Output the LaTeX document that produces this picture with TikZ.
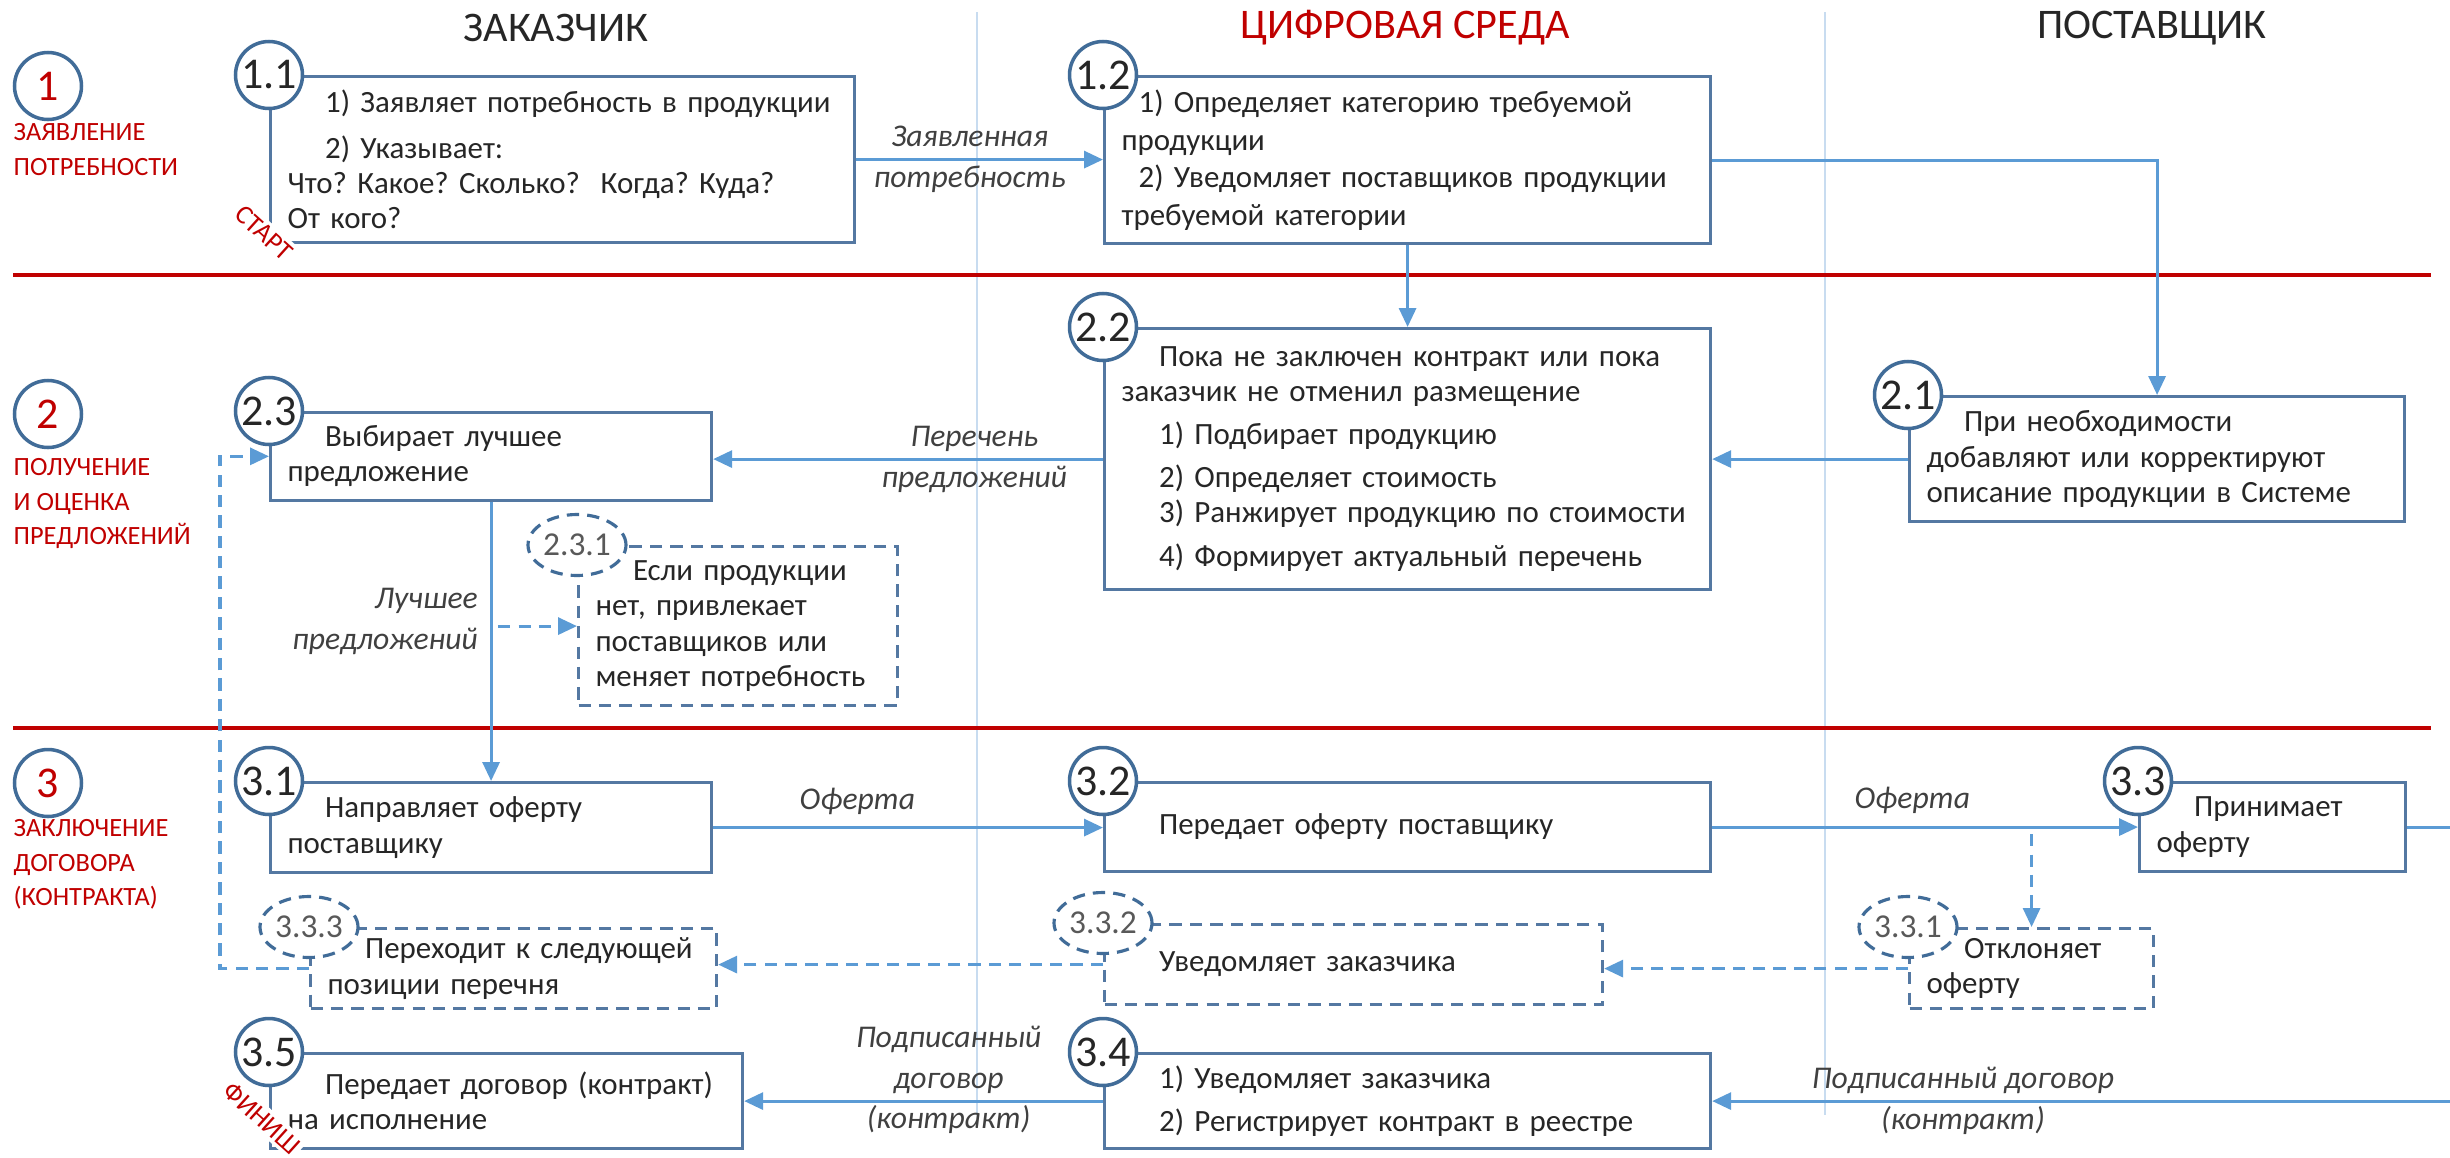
\documentclass[tikz,border=0pt]{standalone}
\usepackage{fontspec}
\setmainfont{Carlito}
\frenchspacing
\usetikzlibrary{positioning, shapes.geometric, arrows.meta, calc}
\definecolor{tmRed}{RGB}{192,0,0}
\definecolor{boxBlue}{RGB}{84,120,162}
\definecolor{circBlue}{RGB}{65,108,152}
\definecolor{lineBlue}{RGB}{91,155,213}
\definecolor{laneBlue}{RGB}{200,220,240}
\definecolor{txtGray}{RGB}{38,38,38}
\newcommand{\indnt}{\hspace*{0.375cm}}

\tikzset{
  stepbox/.style 2 args={draw=boxBlue, line width=0.9pt, fill=white, anchor=north west,
    minimum width=#1cm, minimum height=#2cm, inner xsep=0.17cm, inner ysep=0pt,
    /utils/exec={\pgfmathsetmacro\boxtw{#1-0.34}}, text width=\boxtw cm,
    align=left, text=txtGray, font=\fontsize{8.8}{10}\selectfont},
  altbox/.style 2 args={stepbox={#1}{#2}, dash pattern=on 3.5pt off 2.3pt},
  numcirc/.style={circle, draw=circBlue, line width=1pt, fill=white, minimum size=0.67cm,
    inner sep=0pt, text=txtGray, font=\fontsize{12.5}{12.5}\selectfont},
  altcirc/.style={ellipse, draw=circBlue, line width=0.9pt, dash pattern=on 3.5pt off 2.3pt,
    fill=white, minimum width=0.98cm, minimum height=0.61cm, inner sep=0pt,
    text=black!65, font=\fontsize{9.5}{9.5}\selectfont},
  phasecirc/.style={numcirc, text=tmRed},
  phaselbl/.style={anchor=north west, inner sep=0pt, align=left, text=tmRed,
    font=\fontsize{7.5}{9.8}\selectfont},
  lanehead/.style={font=\fontsize{12}{12}\selectfont, text=txtGray},
  endlbl/.style={text=tmRed, fill=white, inner sep=1pt, rotate=-42, font=\fontsize{7.6}{7.6}\selectfont},
  link/.style={draw=lineBlue, line width=0.9pt},
  flow/.style={link, -{Triangle[length=0.19cm, width=0.17cm]}},
  altflow/.style={flow, dash pattern=on 3.5pt off 2.3pt},
  flowlbl/.style={font=\itshape\fontsize{9}{11.6}\selectfont, text=black!75, align=center}
}

\begin{document}
\begin{tikzpicture}
	\useasboundingbox (0,0) rectangle (24.5,-11.57);
	
	% Lanes and phase borders
	\draw[laneBlue, line width=0.8pt] (9.77,-0.12) -- (9.77,-11.15);
	\draw[laneBlue, line width=0.8pt] (18.25,-0.12) -- (18.25,-11.15);
	\draw[tmRed, line width=1pt] (0.13,-2.75) -- (24.31,-2.75);
	\draw[tmRed, line width=1pt] (0.13,-7.28) -- (24.31,-7.28);
	
	\node[lanehead] (hcust) at (5.56,-0.28) {ЗАКАЗЧИК};
	\node[lanehead, text=tmRed] (hdigit) at (14.05,-0.28) {ЦИФРОВАЯ СРЕДА};
	\node[lanehead] (hsupp) at (21.52,-0.28) {ПОСТАВЩИК};
	
	% Phases
	\node[phasecirc] (ph1) at (0.48,-0.86) {1};
	\node[phaselbl] (ph1lbl) at (0.13,-1.23) {ЗАЯВЛЕНИЕ\\ПОТРЕБНОСТИ};
	\node[phasecirc] (ph2) at (0.48,-4.14) {2};
	\node[phaselbl] (ph2lbl) at (0.13,-4.58) {ПОЛУЧЕНИЕ\\И ОЦЕНКА\\ПРЕДЛОЖЕНИЙ};
	\node[phasecirc] (ph3) at (0.48,-7.83) {3};
	\node[phaselbl] (ph3lbl) at (0.13,-8.19) {ЗАКЛЮЧЕНИЕ\\ДОГОВОРА\\(КОНТРАКТА)};
	
	% Steps
	\node[stepbox={5.84}{1.66}] (b11) at (2.69,-0.75) {\indnt 1) Заявляет потребность в продукции\\[3pt]
		\indnt 2) Указывает:\\ Что? Какое? Сколько?~ Когда? Куда?\\ От кого?};
	\node[stepbox={6.06}{1.67}] (b12) at (11.03,-0.75) {\hspace*{0.17cm}1) Определяет категорию требуемой\\[0.7pt]
		продукции\\[0.7pt] \hspace*{0.17cm}2) Уведомляет поставщиков продукции\\[0.7pt] требуемой категории};
	\node[stepbox={6.06}{2.61}] (b22) at (11.03,-3.27) {\indnt Пока не заключен контракт или пока\\
		заказчик не отменил размещение\\[2pt] \indnt 1) Подбирает продукцию\\[2.4pt]
		\indnt 2) Определяет стоимость\\ \indnt 3) Ранжирует продукцию по стоимости\\[2.4pt]
		\indnt 4) Формирует актуальный перечень};
	\node[stepbox={4.95}{1.25}] (b21) at (19.08,-3.95) {\indnt При необходимости\\ добавляют или корректируют\\
		описание продукции в Системе};
	\node[stepbox={4.41}{0.875}] (b23) at (2.69,-4.11) {\indnt Выбирает лучшее\\ предложение};
	\node[altbox={3.19}{1.59}] (b231) at (5.77,-5.45) {\indnt Если продукции\\ нет, привлекает\\
		поставщиков или\\ меняет потребность};
	\node[stepbox={4.41}{0.9}] (b31) at (2.69,-7.81) {\indnt Направляет оферту\\ поставщику};
	\node[stepbox={6.06}{0.89}] (b32) at (11.03,-7.81) {\indnt Передает оферту поставщику};
	\node[stepbox={2.66}{0.89}] (b33) at (21.38,-7.81) {\indnt Принимает\\ оферту};
	\node[altbox={4.06}{0.8}] (b333) at (3.09,-9.27) {\indnt Переходит к следующей\\ позиции перечня};
	\node[altbox={4.98}{0.8}] (b332) at (11.03,-9.23) {\indnt Уведомляет заказчика};
	\node[altbox={2.44}{0.8}] (b331) at (19.08,-9.27) {\indnt Отклоняет\\ оферту};
	\node[stepbox={6.06}{0.95}] (b34) at (11.03,-10.52) {\indnt 1) Уведомляет заказчика\\[2pt]
		\indnt 2) Регистрирует контракт в реестре};
	\node[stepbox={4.72}{0.95}] (b35) at (2.69,-10.52) {\indnt Передает договор (контракт)\\ на исполнение};
	
	% Step numbers
	\node[numcirc] (c11) at (b11.north west) {1.1};
	\node[numcirc] (c12) at (b12.north west) {1.2};
	\node[numcirc] (c22) at (b22.north west) {2.2};
	\node[numcirc] (c21) at (b21.north west) {2.1};
	\node[numcirc] (c23) at (b23.north west) {2.3};
	\node[altcirc] (c231) at (b231.north west) {2.3.1};
	\node[numcirc] (c31) at (b31.north west) {3.1};
	\node[numcirc] (c32) at (b32.north west) {3.2};
	\node[numcirc] (c33) at (b33.north west) {3.3};
	\node[altcirc] (c333) at (b333.north west) {3.3.3};
	\node[altcirc] (c332) at (b332.north west) {3.3.2};
	\node[altcirc] (c331) at (b331.north west) {3.3.1};
	\node[numcirc] (c34) at (b34.north west) {3.4};
	\node[numcirc] (c35) at (b35.north west) {3.5};
	
	\node[endlbl] (start) at (2.64,-2.33) {СТАРТ};
	\node[endlbl] (finish) at (2.62,-11.18) {ФИНИШ};
	
	% Connections
	\coordinate (rim) at (24.5,0);
	\draw[flow] (b11.east) -- node[flowlbl, pos=0.46] {Заявленная\\потребность} (b11.east -| b12.west);
	\draw[flow] (b12.east) -| (b21.north);
	\draw[flow] (b12.south) -- (b22.north);
	\draw[flow] (b21.west) -- (b21.west -| b22.east);
	\draw[flow] (b22.west) -- node[flowlbl, pos=0.33] {Перечень\\предложений} (b22.west -| b23.east);
	\draw[flow] (b23.south) -- node[flowlbl, pos=0.43, left, align=right] {Лучшее\\предложений} (b31.north);
	\coordinate (pick) at (b23.south |- b231.west);
	\draw[altflow, shorten <=2pt] (pick) -- (b231.west);
	
	\draw[flow] (b31.east) -- node[flowlbl, pos=0.37, above] {Оферта} (b31.east -| b32.west);
	\draw[flow] (b32.east) -- node[flowlbl, pos=0.47, above] {Оферта} (b33.west);
	\coordinate (reject) at (b331.north |- b32.east);
	\draw[altflow, shorten <=2pt] (reject) -- (b331.north);
	\coordinate (outacc) at (b33.east -| rim);
	\draw[link] (b33.east) -- (outacc);
	
	\draw[altflow] (b331.west) -- (b331.west -| b332.east);
	\draw[altflow] (b332.west) -- (b332.west -| b333.east);
	\draw[altflow] (b333.west) -- ++(-0.89,0) |- (b23.west);
	
	\coordinate (insigned) at (b34.east -| rim);
	\draw[flow] (insigned) -- node[flowlbl, pos=0.66] {Подписанный договор\\(контракт)} (b34.east);
	\draw[flow] (b34.west) -- node[flowlbl, pos=0.43, yshift=0.21cm] {Подписанный\\договор\\(контракт)} (b34.west -| b35.east);
\end{tikzpicture}
\end{document}
